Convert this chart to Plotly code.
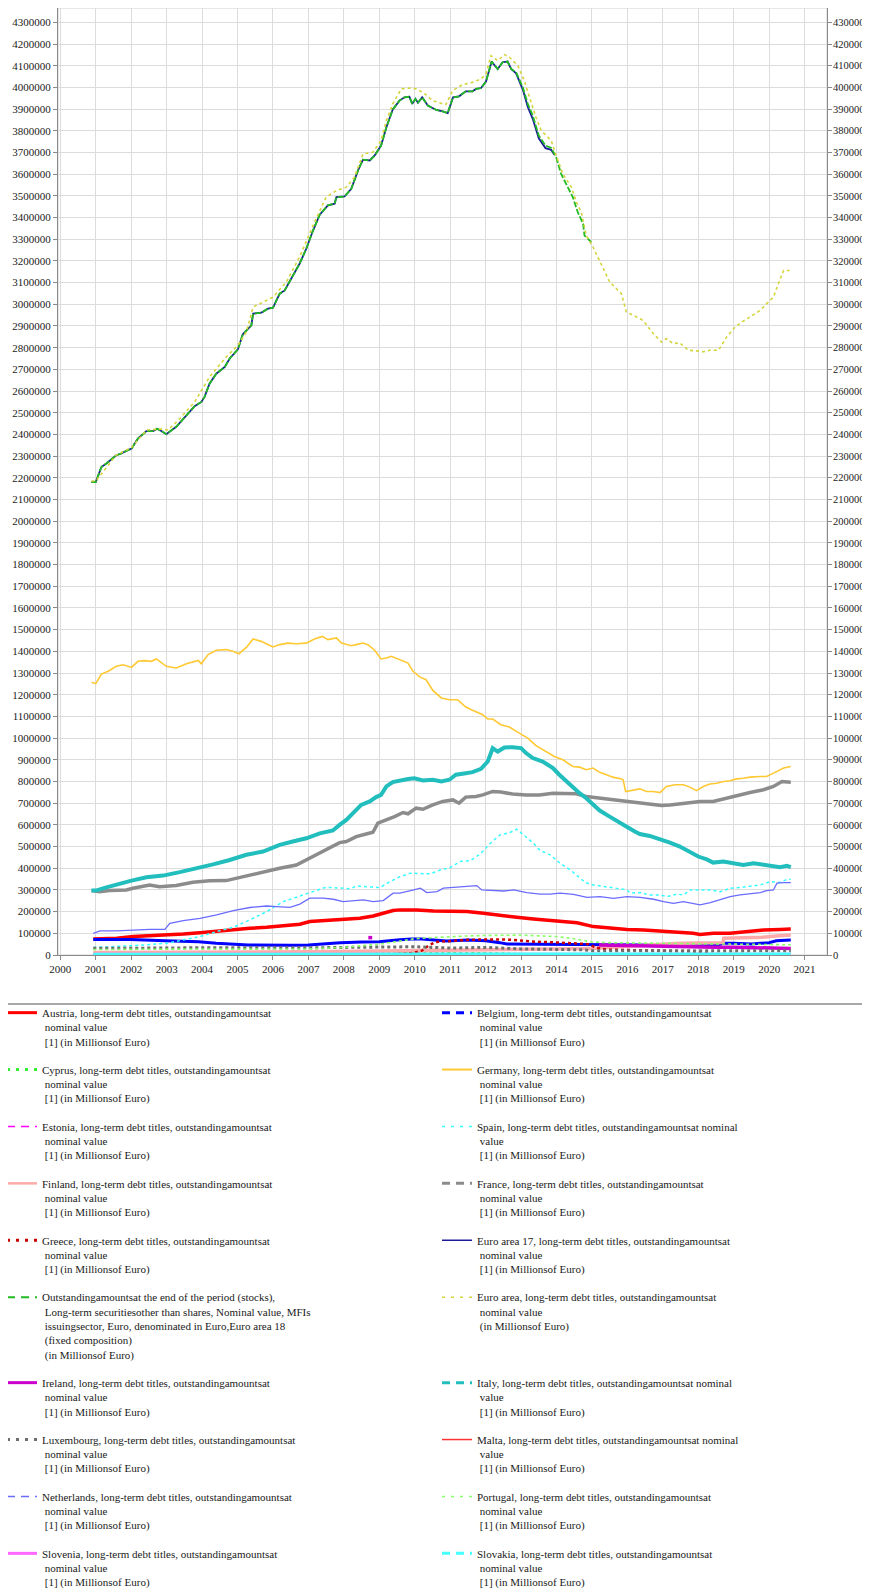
import plotly.graph_objects as go

# ---------------- data (decimal year, value in millions of euro) ----------------
AUSTRIA = [[2000.93,74000],[2001.59,77000],[2002.06,85000],[2002.53,88000],[2003.00,92000],[2003.47,97000],[2003.94,103000],[2004.41,111000],[2004.88,115000],[2005.35,123000],[2005.82,128000],[2006.29,134000],[2006.76,142000],[2007.04,154000],[2007.42,158000],[2007.70,162000],[2008.08,165000],[2008.45,169000],[2008.83,180000],[2009.11,192000],[2009.39,205000],[2009.58,208000],[2010.06,208000],[2010.53,203000],[2011.00,200000],[2011.47,200000],[2011.94,192000],[2012.41,185000],[2012.88,174000],[2013.35,166000],[2013.82,158000],[2014.10,154000],[2014.58,149000],[2015.04,131000],[2015.51,123000],[2015.99,118000],[2016.46,115000],[2016.92,111000],[2017.39,106000],[2017.86,100000],[2018.05,95000],[2018.43,100000],[2018.90,100000],[2019.37,108000],[2019.84,115000],[2020.31,118000],[2020.61,120000]]

BELGIUM = [[2000.93,72000],[2002.00,72000],[2002.95,66000],[2003.90,61000],[2004.40,54000],[2004.80,51000],[2005.30,46000],[2006.50,45000],[2007.00,46000],[2007.40,51000],[2007.90,57000],[2008.50,60000],[2009.00,61000],[2009.50,69000],[2009.90,74000],[2010.20,74000],[2010.50,69000],[2010.90,65000],[2011.50,69000],[2012.00,66000],[2012.40,57000],[2012.60,51000],[2013.50,50000],[2014.50,48000],[2015.50,46000],[2016.50,45000],[2017.50,45000],[2018.60,48000],[2018.70,54000],[2019.00,54000],[2019.50,51000],[2020.00,57000],[2020.20,66000],[2020.61,69000]]

CYPRUS = [[2000.93,3000],[2005.00,5000],[2008.00,10000],[2011.50,12000],[2012.00,9000],[2012.50,8000],[2013.00,5000],[2016.00,3000],[2020.61,2000]]

GERMANY = [[2000.88,1257000],[2001.00,1251000],[2001.16,1295000],[2001.35,1308000],[2001.58,1331000],[2001.77,1338000],[2002.01,1326000],[2002.19,1354000],[2002.38,1357000],[2002.57,1354000],[2002.71,1365000],[2002.99,1331000],[2003.27,1323000],[2003.56,1343000],[2003.89,1358000],[2003.98,1343000],[2004.17,1385000],[2004.40,1405000],[2004.68,1408000],[2004.87,1400000],[2005.04,1389000],[2005.25,1418000],[2005.44,1457000],[2005.67,1446000],[2005.81,1435000],[2006.00,1420000],[2006.19,1431000],[2006.42,1438000],[2006.66,1435000],[2006.94,1438000],[2007.17,1457000],[2007.39,1469000],[2007.55,1454000],[2007.69,1457000],[2007.79,1462000],[2007.93,1438000],[2008.21,1426000],[2008.35,1431000],[2008.54,1438000],[2008.68,1431000],[2008.87,1405000],[2009.05,1365000],[2009.20,1369000],[2009.34,1377000],[2009.57,1362000],[2009.81,1346000],[2009.95,1308000],[2010.14,1282000],[2010.32,1269000],[2010.51,1220000],[2010.75,1185000],[2010.98,1177000],[2011.21,1177000],[2011.44,1143000],[2011.63,1128000],[2011.92,1108000],[2012.06,1088000],[2012.20,1088000],[2012.43,1062000],[2012.67,1051000],[2012.95,1023000],[2013.19,1000000],[2013.42,965000],[2013.71,938000],[2013.94,915000],[2014.18,900000],[2014.46,869000],[2014.65,866000],[2014.84,854000],[2015.03,862000],[2015.22,842000],[2015.41,831000],[2015.59,820000],[2015.83,811000],[2015.88,808000],[2015.95,754000],[2016.16,762000],[2016.35,766000],[2016.54,754000],[2016.73,754000],[2016.92,749000],[2017.10,777000],[2017.34,785000],[2017.58,785000],[2017.76,774000],[2017.95,758000],[2018.14,777000],[2018.33,788000],[2018.52,792000],[2018.71,800000],[2018.90,803000],[2019.08,812000],[2019.27,815000],[2019.46,820000],[2019.75,823000],[2019.93,823000],[2020.08,835000],[2020.22,846000],[2020.41,862000],[2020.61,869000]]

ESTONIA = [[2000.93,1000],[2005.00,1000],[2010.00,2000],[2015.00,2000],[2020.61,2000]]

SPAIN = [[2000.93,35000],[2002.06,43000],[2003.00,54000],[2003.47,69000],[2003.94,85000],[2004.41,108000],[2004.88,128000],[2005.35,162000],[2005.82,200000],[2006.29,246000],[2006.76,272000],[2007.04,288000],[2007.47,311000],[2007.70,311000],[2008.17,305000],[2008.36,318000],[2008.64,315000],[2009.02,311000],[2009.30,338000],[2009.58,361000],[2009.87,377000],[2010.16,377000],[2010.44,374000],[2010.72,392000],[2011.00,403000],[2011.28,431000],[2011.57,435000],[2011.85,466000],[2012.04,500000],[2012.18,523000],[2012.41,554000],[2012.69,565000],[2012.88,580000],[2013.07,554000],[2013.35,515000],[2013.54,482000],[2013.82,462000],[2014.10,423000],[2014.39,392000],[2014.67,354000],[2014.81,334000],[2015.04,323000],[2015.33,315000],[2015.61,308000],[2015.99,300000],[2016.08,285000],[2016.36,288000],[2016.64,277000],[2016.92,277000],[2017.11,269000],[2017.39,281000],[2017.58,277000],[2017.77,300000],[2018.05,300000],[2018.34,300000],[2018.62,292000],[2018.90,308000],[2019.18,311000],[2019.46,318000],[2019.75,323000],[2020.03,338000],[2020.31,334000],[2020.50,349000],[2020.61,349000]]

FINLAND = [[2000.93,12000],[2003.00,12000],[2005.00,14000],[2007.00,15000],[2009.00,18000],[2010.00,20000],[2011.00,22000],[2012.00,25000],[2013.00,25000],[2014.00,27000],[2015.00,30000],[2016.00,40000],[2016.90,50000],[2017.50,54000],[2018.00,55000],[2018.70,57000],[2018.72,77000],[2019.30,78000],[2019.80,82000],[2020.20,88000],[2020.61,92000]]

FRANCE = [[2000.88,297000],[2001.11,292000],[2001.39,297000],[2001.86,300000],[2002.05,308000],[2002.52,323000],[2002.80,315000],[2003.27,320000],[2003.74,335000],[2004.21,342000],[2004.68,343000],[2005.15,362000],[2005.62,377000],[2006.19,400000],[2006.66,415000],[2006.94,438000],[2007.32,469000],[2007.69,500000],[2007.88,518000],[2008.07,523000],[2008.35,546000],[2008.63,558000],[2008.82,566000],[2008.96,608000],[2009.20,623000],[2009.43,638000],[2009.67,657000],[2009.81,651000],[2010.04,677000],[2010.23,672000],[2010.51,692000],[2010.79,708000],[2011.08,715000],[2011.25,700000],[2011.44,728000],[2011.73,731000],[2011.92,738000],[2012.20,754000],[2012.43,751000],[2012.76,742000],[2013.14,738000],[2013.52,738000],[2013.90,746000],[2014.27,746000],[2014.56,743000],[2014.84,731000],[2015.22,723000],[2015.59,715000],[2015.97,708000],[2016.35,700000],[2016.73,692000],[2016.96,689000],[2017.20,692000],[2017.48,697000],[2017.76,700000],[2018.05,708000],[2018.42,708000],[2018.80,723000],[2019.08,738000],[2019.46,749000],[2019.84,762000],[2020.12,777000],[2020.36,800000],[2020.61,797000]]

GREECE = [[2009.50,5000],[2009.90,8000],[2010.20,20000],[2010.40,45000],[2010.60,60000],[2011.00,65000],[2011.50,70000],[2012.00,72000],[2012.50,72000],[2012.90,68000],[2013.30,62000],[2014.00,58000],[2014.50,55000],[2014.90,50000],[2015.10,35000],[2015.40,25000],[2016.00,23000],[2017.00,20000],[2018.00,16000],[2018.20,10000],[2018.30,5000],[2020.61,3000]]

EURO_AREA_17 = [[2000.88,2180000],[2001.00,2180000],[2001.16,2250000],[2001.30,2266000],[2001.58,2304000],[2001.72,2312000],[2001.86,2324000],[2002.01,2335000],[2002.19,2381000],[2002.43,2415000],[2002.62,2415000],[2002.73,2426000],[2002.85,2416000],[2002.99,2401000],[2003.27,2435000],[2003.56,2489000],[2003.79,2530000],[2003.98,2550000],[2004.07,2573000],[2004.21,2634000],[2004.40,2680000],[2004.64,2711000],[2004.78,2750000],[2005.01,2792000],[2005.15,2862000],[2005.39,2903000],[2005.44,2957000],[2005.67,2961000],[2005.86,2980000],[2006.00,2984000],[2006.19,3049000],[2006.33,3064000],[2006.56,3133000],[2006.75,3187000],[2006.94,3256000],[2007.13,3340000],[2007.32,3413000],[2007.55,3456000],[2007.74,3464000],[2007.79,3494000],[2008.02,3497000],[2008.21,3532000],[2008.40,3617000],[2008.54,3667000],[2008.73,3663000],[2008.87,3686000],[2009.05,3732000],[2009.20,3816000],[2009.38,3898000],[2009.57,3939000],[2009.71,3954000],[2009.85,3957000],[2009.93,3924000],[2010.02,3947000],[2010.09,3929000],[2010.21,3954000],[2010.37,3916000],[2010.61,3896000],[2010.79,3889000],[2010.93,3881000],[2011.08,3954000],[2011.25,3959000],[2011.44,3982000],[2011.63,3982000],[2011.73,3993000],[2011.87,3997000],[2012.01,4027000],[2012.17,4119000],[2012.34,4085000],[2012.48,4116000],[2012.62,4119000],[2012.72,4085000],[2012.86,4065000],[2013.05,3990000],[2013.19,3910000],[2013.33,3855000],[2013.50,3765000],[2013.69,3720000],[2013.85,3712000],[2013.94,3690000]]

EURO_AREA_18 = [[2000.88,2180000],[2001.00,2180000],[2001.16,2250000],[2001.30,2266000],[2001.58,2304000],[2001.72,2312000],[2001.86,2324000],[2002.01,2335000],[2002.19,2381000],[2002.43,2415000],[2002.62,2415000],[2002.73,2426000],[2002.85,2416000],[2002.99,2401000],[2003.27,2435000],[2003.56,2489000],[2003.79,2530000],[2003.98,2550000],[2004.07,2573000],[2004.21,2634000],[2004.40,2680000],[2004.64,2711000],[2004.78,2750000],[2005.01,2792000],[2005.15,2862000],[2005.39,2903000],[2005.44,2957000],[2005.67,2961000],[2005.86,2980000],[2006.00,2984000],[2006.19,3049000],[2006.33,3064000],[2006.56,3133000],[2006.75,3187000],[2006.94,3256000],[2007.13,3340000],[2007.32,3413000],[2007.55,3456000],[2007.74,3464000],[2007.79,3494000],[2008.02,3497000],[2008.21,3532000],[2008.40,3617000],[2008.54,3667000],[2008.73,3663000],[2008.87,3686000],[2009.05,3732000],[2009.20,3816000],[2009.38,3898000],[2009.57,3939000],[2009.71,3954000],[2009.85,3957000],[2009.93,3924000],[2010.02,3947000],[2010.09,3929000],[2010.21,3954000],[2010.37,3916000],[2010.61,3896000],[2010.79,3889000],[2010.93,3881000],[2011.08,3954000],[2011.25,3959000],[2011.44,3982000],[2011.63,3982000],[2011.73,3993000],[2011.87,3997000],[2012.01,4027000],[2012.17,4119000],[2012.34,4085000],[2012.48,4116000],[2012.62,4119000],[2012.72,4085000],[2012.86,4070000],[2013.05,4000000],[2013.19,3924000],[2013.33,3870000],[2013.50,3778000],[2013.69,3732000],[2013.85,3721000],[2013.99,3678000],[2014.13,3601000],[2014.27,3555000],[2014.46,3494000],[2014.60,3425000],[2014.75,3371000],[2014.79,3317000],[2014.98,3287000]]

EURO_AREA = [[2000.88,2185000],[2001.00,2185000],[2001.58,2305000],[2002.01,2340000],[2002.43,2420000],[2002.85,2425000],[2003.04,2420000],[2003.37,2473000],[2003.79,2550000],[2004.21,2665000],[2004.68,2757000],[2005.01,2811000],[2005.25,2872000],[2005.44,2987000],[2006.00,3033000],[2006.38,3103000],[2006.75,3218000],[2007.13,3363000],[2007.50,3494000],[2007.79,3524000],[2008.07,3540000],[2008.30,3586000],[2008.54,3693000],[2008.82,3701000],[2009.05,3755000],[2009.20,3847000],[2009.38,3924000],[2009.62,3993000],[2009.85,3997000],[2010.04,3993000],[2010.23,3977000],[2010.51,3939000],[2010.79,3924000],[2010.88,3921000],[2011.07,3985000],[2011.35,4013000],[2011.63,4023000],[2011.87,4039000],[2012.01,4062000],[2012.15,4146000],[2012.34,4123000],[2012.53,4151000],[2012.67,4139000],[2012.91,4100000],[2013.09,4031000],[2013.24,3954000],[2013.42,3862000],[2013.57,3801000],[2013.85,3755000],[2013.99,3686000],[2014.18,3601000],[2014.42,3540000],[2014.56,3471000],[2014.70,3425000],[2014.84,3317000],[2015.03,3264000],[2015.31,3172000],[2015.50,3103000],[2015.83,3049000],[2015.97,2965000],[2016.25,2942000],[2016.44,2926000],[2016.73,2865000],[2016.96,2826000],[2017.10,2842000],[2017.29,2819000],[2017.48,2822000],[2017.72,2788000],[2017.95,2785000],[2018.14,2781000],[2018.33,2788000],[2018.57,2788000],[2018.80,2849000],[2019.04,2895000],[2019.23,2918000],[2019.51,2949000],[2019.75,2972000],[2019.93,3003000],[2020.12,3033000],[2020.26,3095000],[2020.41,3156000],[2020.58,3156000]]

IRELAND = [[2008.69,80000],[2008.80,80000],None,[2015.20,46000],[2015.50,45000],[2016.00,42000],[2016.50,40000],[2017.00,38000],[2017.50,37000],[2018.00,35000],[2018.50,36000],[2019.00,36000],[2019.50,35000],[2020.00,33000],[2020.30,32000],[2020.61,30000]]

ITALY = [[2000.88,297000],[2001.00,297000],[2001.30,312000],[2001.68,331000],[2002.01,343000],[2002.43,358000],[2002.90,366000],[2003.37,382000],[2003.89,400000],[2004.31,418000],[2004.78,438000],[2005.25,462000],[2005.72,477000],[2006.19,508000],[2006.56,523000],[2006.94,538000],[2007.32,561000],[2007.69,574000],[2007.88,600000],[2008.07,623000],[2008.26,654000],[2008.49,692000],[2008.73,708000],[2008.91,728000],[2009.05,738000],[2009.20,777000],[2009.38,797000],[2009.57,805000],[2009.81,811000],[2009.99,815000],[2010.23,805000],[2010.51,808000],[2010.75,800000],[2010.98,808000],[2011.16,831000],[2011.44,838000],[2011.63,843000],[2011.87,858000],[2012.06,892000],[2012.15,931000],[2012.20,954000],[2012.34,938000],[2012.53,957000],[2012.76,958000],[2013.00,954000],[2013.14,931000],[2013.33,908000],[2013.61,892000],[2013.90,862000],[2014.08,831000],[2014.23,808000],[2014.42,785000],[2014.65,746000],[2014.84,723000],[2015.03,692000],[2015.22,666000],[2015.50,638000],[2015.78,608000],[2015.97,592000],[2016.21,569000],[2016.35,558000],[2016.63,549000],[2016.92,534000],[2017.20,518000],[2017.48,500000],[2017.76,477000],[2018.00,454000],[2018.24,441000],[2018.42,426000],[2018.71,431000],[2018.99,423000],[2019.27,415000],[2019.56,423000],[2019.84,415000],[2020.12,408000],[2020.31,405000],[2020.50,411000],[2020.61,405000]]

LUXEMBOURG = [[2000.93,31000],[2002.00,30000],[2003.00,32000],[2004.00,34000],[2005.00,33000],[2006.00,34000],[2007.00,33000],[2008.00,35000],[2009.00,38000],[2010.00,38000],[2011.00,32000],[2012.00,35000],[2013.00,28000],[2014.00,27000],[2014.70,24000],[2015.00,20000],[2016.00,19000],[2017.00,18000],[2018.00,19000],[2019.00,20000],[2020.61,20000]]

MALTA = [[2000.93,1000],[2010.00,2000],[2020.61,3000]]

NETHERLANDS = [[2000.93,100000],[2001.12,111000],[2001.59,111000],[2002.06,115000],[2002.53,118000],[2002.95,118000],[2003.09,146000],[2003.47,158000],[2003.94,169000],[2004.41,185000],[2004.88,205000],[2005.35,219000],[2005.82,226000],[2006.10,223000],[2006.48,220000],[2006.76,235000],[2007.04,262000],[2007.42,262000],[2007.70,257000],[2007.98,246000],[2008.26,251000],[2008.55,254000],[2008.83,246000],[2009.11,251000],[2009.39,285000],[2009.58,285000],[2009.97,300000],[2010.16,308000],[2010.34,288000],[2010.63,292000],[2010.81,308000],[2011.00,311000],[2011.28,315000],[2011.57,318000],[2011.75,320000],[2011.89,300000],[2012.22,297000],[2012.51,295000],[2012.79,300000],[2013.16,288000],[2013.54,281000],[2013.82,281000],[2014.10,285000],[2014.48,280000],[2014.86,266000],[2015.23,269000],[2015.61,261000],[2015.99,269000],[2016.36,266000],[2016.74,257000],[2017.02,246000],[2017.30,238000],[2017.58,246000],[2017.86,238000],[2018.05,231000],[2018.34,241000],[2018.62,254000],[2018.90,269000],[2019.18,277000],[2019.46,281000],[2019.75,288000],[2019.93,297000],[2020.12,300000],[2020.22,331000],[2020.40,334000],[2020.61,334000]]

PORTUGAL = [[2000.93,25000],[2002.00,27000],[2003.00,26000],[2004.00,28000],[2005.00,27000],[2006.00,26000],[2007.00,28000],[2008.00,35000],[2008.50,42000],[2009.00,50000],[2009.50,62000],[2010.00,75000],[2010.50,80000],[2011.00,85000],[2011.50,88000],[2012.00,90000],[2012.50,92000],[2013.00,92000],[2013.50,88000],[2014.00,85000],[2014.50,75000],[2015.00,60000],[2015.50,57000],[2016.50,55000],[2017.50,54000],[2018.50,51000],[2019.50,50000],[2020.61,47000]]

SLOVENIA = [[2000.93,3000],[2010.00,4000],[2020.61,3000]]

SLOVAKIA = [[2000.93,3000],[2005.00,4000],[2010.00,5000],[2015.00,4000],[2020.61,5000]]

STD = "{c}, long-term debt titles, outstandingamountsat<br> nominal value<br> [1] (in Millionsof Euro)"
STD2 = "{c}, long-term debt titles, outstandingamountsat nominal<br> value<br> [1] (in Millionsof Euro)"
OUTSTANDING_LABEL = ("Outstandingamountsat the end of the period (stocks),<br> Long-term securitiesother than shares, Nominal value, MFIs"
                     "<br> issuingsector, Euro, denominated in Euro,Euro area 18<br> (fixed composition)<br> (in Millionsof Euro)")
EURO_AREA_LABEL = "Euro area, long-term debt titles, outstandingamountsat<br> nominal value<br> (in Millionsof Euro)<br>&nbsp;<br>&nbsp;"

DASH_LEG = "8px,6px"
DOT_LEG = "3px,6px"

# name, label, data, color, plot width, plot dash, legend dash, legend width, legend id
SERIES = [
    ("AT", STD.format(c="Austria"), AUSTRIA, "#ff0000", 3.5, "solid", "solid", 3, "legend"),
    ("BE", STD.format(c="Belgium"), BELGIUM, "#0000ff", 3, "solid", DASH_LEG, 3, "legend2"),
    ("CY", STD.format(c="Cyprus"), CYPRUS, "#33ee33", 2, "dot", DOT_LEG, 3, "legend"),
    ("DE", STD.format(c="Germany"), GERMANY, "#ffc933", 1.6, "solid", "solid", 2, "legend2"),
    ("EE", STD.format(c="Estonia"), ESTONIA, "#ff00ff", 1.5, "solid", DASH_LEG, 1.5, "legend"),
    ("ES", STD2.format(c="Spain"), SPAIN, "#33ffff", 1.5, "dot", DOT_LEG, 1.5, "legend2"),
    ("FI", STD.format(c="Finland"), FINLAND, "#ffaaaa", 3.5, "solid", "solid", 2.5, "legend"),
    ("FR", STD.format(c="France"), FRANCE, "#8c8c8c", 3.5, "solid", DASH_LEG, 3, "legend2"),
    ("GR", STD.format(c="Greece"), GREECE, "#cc0000", 2.5, "dot", DOT_LEG, 3, "legend"),
    ("I7", STD.format(c="Euro area 17"), EURO_AREA_17, "#1c1c99", 1.8, "solid", "solid", 1.5, "legend2"),
    ("I8", OUTSTANDING_LABEL, EURO_AREA_18, "#22bb22", 1.8, "6px,2px", DASH_LEG, 2, "legend"),
    ("EA", EURO_AREA_LABEL, EURO_AREA, "#d4d43c", 1.6, "dot", DOT_LEG, 1.5, "legend2"),
    ("IE", STD.format(c="Ireland"), IRELAND, "#cc00cc", 3.5, "solid", "solid", 3, "legend"),
    ("IT", STD2.format(c="Italy"), ITALY, "#22bdbd", 4, "solid", DASH_LEG, 3, "legend2"),
    ("LU", STD.format(c="Luxembourg"), LUXEMBOURG, "#6e6e6e", 3, "dot", DOT_LEG, 3, "legend"),
    ("MT", STD2.format(c="Malta"), MALTA, "#ff3333", 1.2, "solid", "solid", 1.5, "legend2"),
    ("NL", STD.format(c="Netherlands"), NETHERLANDS, "#6b6bff", 1.3, "solid", DASH_LEG, 1.5, "legend"),
    ("PT", STD.format(c="Portugal"), PORTUGAL, "#88ff66", 1.6, "dot", DOT_LEG, 1.5, "legend2"),
    ("SI", STD.format(c="Slovenia"), SLOVENIA, "#ff66ff", 3, "solid", "solid", 3, "legend"),
    ("SK", STD.format(c="Slovakia"), SLOVAKIA, "#44ffff", 3, "solid", DASH_LEG, 3, "legend2"),
]

FONT = "Liberation Serif"
Y_MAX = 4366000
X_MIN, X_MAX = 1999.935, 2021.632

fig = go.Figure()

# legend entries
for key, label, data, color, w, dash, ldash, lw, leg in SERIES:
    fig.add_trace(go.Scatter(
        x=[None], y=[None], mode="lines", name=label, legendgroup=key, legend=leg,
        line=dict(color=color, width=lw, dash=ldash), hoverinfo="skip"))

# data lines
for key, label, data, color, w, dash, ldash, lw, leg in SERIES:
    xs = [p[0] if p is not None else None for p in data]
    ys = [p[1] if p is not None else None for p in data]
    fig.add_trace(go.Scatter(
        x=xs, y=ys, mode="lines", name=key, legendgroup=key, showlegend=False,
        connectgaps=False, line=dict(color=color, width=w, dash=dash)))

# helper trace so the right-hand axis is drawn
fig.add_trace(go.Scatter(x=[None], y=[None], yaxis="y2", showlegend=False, hoverinfo="skip"))

# the page body has an 8px default margin: the figure is sized/placed to compensate
PAGE_OFF = 8
W, H = 870 - PAGE_OFF, 1593 - PAGE_OFF
ML, MR, MT, MB = 50, 43, 0, 638
PW, PH = W - ML - MR, H - MT - MB

def px_x(page_x):
    return (page_x - PAGE_OFF - ML) / PW

def px_y(page_y):
    return (H - MB - (page_y - PAGE_OFF)) / PH

tickfont = dict(family=FONT, size=11, color="#222222")
tickfont_right = dict(family=FONT, size=10.5, color="#222222")
legfont = dict(family=FONT, size=11, color="#1a1a1a")

fig.update_layout(
    width=W, height=H,
    margin=dict(l=ML, r=MR, t=MT, b=MB, autoexpand=False),
    paper_bgcolor="white", plot_bgcolor="white",
    xaxis=dict(range=[X_MIN, X_MAX], tick0=2000, dtick=1, tickformat="d",
               showgrid=True, gridcolor="#dcdcdc", gridwidth=1, zeroline=False,
               showline=True, linecolor="#8a8a8a", linewidth=1,
               ticks="outside", ticklen=4, tickcolor="#8a8a8a", tickfont=tickfont),
    yaxis=dict(range=[0, Y_MAX], tick0=0, dtick=100000, tickformat="d",
               showgrid=True, gridcolor="#dcdcdc", gridwidth=1, zeroline=False,
               showline=True, linecolor="#8a8a8a", linewidth=1,
               ticks="outside", ticklen=4, tickcolor="#8a8a8a", tickfont=tickfont),
    yaxis2=dict(range=[0, Y_MAX], tick0=0, dtick=100000, tickformat="d",
                overlaying="y", side="right", showgrid=False, zeroline=False,
                showline=True, linecolor="#8a8a8a", linewidth=1,
                ticks="outside", ticklen=4, tickcolor="#8a8a8a", tickfont=tickfont_right,
                ticklabelstandoff=-1),
    legend=dict(x=px_x(2), y=px_y(999), xanchor="left", yanchor="top",
                orientation="v", valign="top", traceorder="grouped", tracegroupgap=11,
                bgcolor="rgba(0,0,0,0)", borderwidth=0, font=legfont),
    legend2=dict(x=px_x(437), y=px_y(999), xanchor="left", yanchor="top",
                 orientation="v", valign="top", traceorder="grouped", tracegroupgap=11,
                 bgcolor="rgba(0,0,0,0)", borderwidth=0, font=legfont),
    shapes=[
        dict(type="rect", xref="paper", yref="paper", x0=0, x1=1, y0=0, y1=1,
             line=dict(color="#d0d0d0", width=1), layer="below"),
        dict(type="rect", xref="paper", yref="paper",
             x0=px_x(5), x1=px_x(885), y0=px_y(1004), y1=px_y(1620),
             line=dict(color="#a8a8a8", width=2)),
    ],
    showlegend=True,
)

fig.write_html("out.html")
